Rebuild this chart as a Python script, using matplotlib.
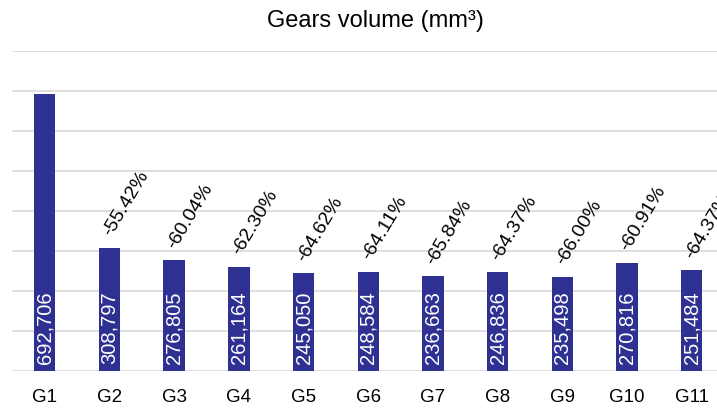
import matplotlib.pyplot as plt

gears = ['G1', 'G2', 'G3', 'G4', 'G5', 'G6', 'G7', 'G8', 'G9', 'G10', 'G11']
volume = [692706, 308797, 276805, 261164, 245050, 248584, 236663, 246836, 235498, 270816, 251484]
reduction = ['', '-55.42%', '-60.04%', '-62.30%', '-64.62%', '-64.11%', '-65.84%',
             '-64.37%', '-66.00%', '-60.91%', '-64.37%']

plt.rcParams['font.family'] = ['Liberation Sans', 'DejaVu Sans']

fig = plt.figure(figsize=(7.17, 4.08), dpi=100)
ax = fig.add_axes([0.0173, 0.0907, 0.99, 0.784])

x = range(len(gears))
bars = ax.bar(x, volume, width=0.33, color='#2E3192', zorder=3)

ax.set_xlim(-0.5, 10.47)
ax.set_ylim(0, 800000)
ax.set_yticks(range(0, 800001, 100000))
ax.set_yticklabels([])
ax.grid(axis='y', color='#d9d9d9', linewidth=1.2, zorder=0)
ax.tick_params(axis='y', length=0)
ax.tick_params(axis='x', length=0, pad=13, labelsize=13.5)
ax.set_xticks(list(x))
ax.set_xticklabels(gears)
for s in ax.spines.values():
    s.set_visible(False)

# volume values written inside the bars
for i, v in enumerate(volume):
    ax.annotate(f'{v:,}', (i, 0), xytext=(0, 5), textcoords='offset points',
                rotation=90, ha='center', va='bottom', color='white', fontsize=14.5)

# reduction vs G1 above each bar
for i, v in enumerate(volume):
    if reduction[i]:
        ax.annotate(reduction[i], (i, v), xytext=(3.5, 6), textcoords='offset points',
                    rotation=59, rotation_mode='anchor', ha='left', va='bottom',
                    fontsize=14, annotation_clip=False)

fig.text(0.523, 0.948, 'Gears volume (mm³)', ha='center', va='center', fontsize=17)

fig.savefig('out.png', dpi=100)
